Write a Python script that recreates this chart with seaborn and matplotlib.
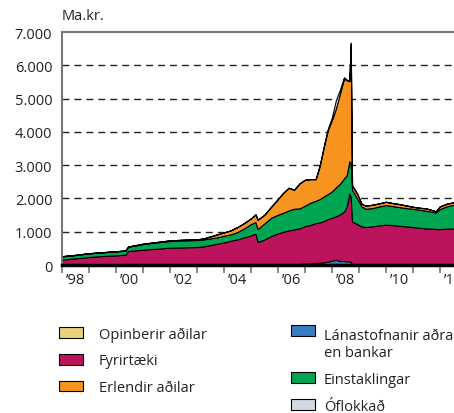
import numpy as np
import pandas as pd
import matplotlib
matplotlib.use('Agg')
import matplotlib.pyplot as plt
import matplotlib.ticker as mticker
from matplotlib.patches import Patch
import seaborn as sns

# Data (Ma.kr.)
dates = [1998.0, 1998.5, 1999.0, 1999.5, 2000.0, 2000.35, 2000.45, 2000.75,
         2001.0, 2001.5, 2002.0, 2002.5, 2003.0, 2003.25, 2003.5, 2003.75,
         2004.0, 2004.25, 2004.5, 2004.75, 2005.0, 2005.17, 2005.25, 2005.5,
         2005.75, 2006.0, 2006.2, 2006.4, 2006.6, 2006.8, 2007.0, 2007.2,
         2007.4, 2007.55, 2007.7, 2007.85, 2008.0, 2008.15, 2008.3, 2008.45,
         2008.55, 2008.65, 2008.7, 2008.75, 2008.85, 2008.95, 2009.1, 2009.25,
         2009.5, 2009.75, 2010.0, 2010.25, 2010.5, 2010.75, 2011.0, 2011.25,
         2011.5, 2011.75, 2011.85, 2012.0, 2012.25, 2012.6]

opinberir = [10] * 62

lanastofnanir = [0, 0, 0, 0, 0, 0, 0, 0,
                 0, 0, 0, 0, 0, 0, 0, 0,
                 0, 0, 0, 0, 0, 0, 0, 0,
                 0, 0, 0, 0, 10, 20, 30, 40,
                 50, 60, 70, 90, 120, 150, 110, 110,
                 100, 100, 90, 0, 0, 0, 0, 0,
                 0, 0, 0, 0, 0, 0, 0, 0,
                 0, 0, 0, 0, 0, 0]

fyrirtaeki = [150, 190, 230, 260, 280, 300, 410, 430,
              450, 480, 510, 520, 530, 550, 590, 630,
              670, 720, 760, 820, 880, 930, 680, 760,
              860, 940, 990, 1030, 1050, 1070, 1130, 1150,
              1200, 1210, 1240, 1280, 1290, 1300, 1400, 1480,
              1640, 2040, 1950, 1290, 1260, 1210, 1150, 1130,
              1150, 1180, 1200, 1190, 1170, 1150, 1130, 1110,
              1090, 1080, 1070, 1070, 1080, 1090]

einstaklingar = [100, 100, 110, 110, 120, 120, 130, 150,
                 170, 190, 200, 210, 210, 210, 200, 190,
                 200, 190, 220, 270, 340, 350, 390, 480,
                 550, 560, 570, 600, 620, 600, 610, 670,
                 670, 700, 740, 750, 790, 870, 920, 1000,
                 950, 970, 1000, 960, 850, 760, 600, 550,
                 550, 570, 590, 570, 560, 550, 550, 540,
                 530, 500, 500, 600, 670, 730]

erlendir = [5, 5, 5, 5, 5, 5, 5, 10,
            10, 10, 20, 20, 20, 30, 60, 90,
            100, 120, 150, 160, 170, 230, 280, 260,
            330, 470, 600, 680, 570, 750, 780, 710,
            650, 1000, 1490, 1920, 2140, 2370, 2710, 3000,
            2850, 2400, 3600, 120, 140, 140, 80, 90,
            100, 90, 100, 90, 90, 80, 60, 60,
            70, 50, 30, 80, 80, 70]

oflokkad = [0, 0, 0, 0, 0, 0, 0, 0,
            0, 0, 0, 0, 0, 0, 0, 0,
            0, 0, 0, 0, 0, 0, 0, 0,
            0, 0, 0, 0, 0, 0, 0, 0,
            0, 0, 0, 40, 80, 250, 120, 40,
            20, 20, 30, 0, 0, 0, 0, 0,
            0, 0, 0, 0, 0, 0, 0, 0,
            0, 0, 0, 0, 0, 0]

series_names = ['Opinberir aðilar', 'Lánastofnanir aðrar\nen bankar', 'Fyrirtæki',
                'Einstaklingar', 'Erlendir aðilar', 'Óflokkað']
series_colors = ['#E9D27C', '#3B7BC2', '#BC145C', '#00A551', '#F6941F', '#D2D9E2']

year_labels = ['’98', '’00', '’02', '’04', '’06', '’08', '’10', '’12']


def main():
    df = pd.DataFrame({
        'date': dates,
        series_names[0]: opinberir,
        series_names[1]: lanastofnanir,
        series_names[2]: fyrirtaeki,
        series_names[3]: einstaklingar,
        series_names[4]: erlendir,
        series_names[5]: oflokkad,
    })

    sns.set_theme(style='white')
    plt.rcParams['font.family'] = ['Open Sans', 'DejaVu Sans']

    fig = plt.figure(figsize=(4.54, 4.14), dpi=100)
    ax = fig.add_axes([62 / 454, 148 / 414, 398 / 454, 233 / 414])

    ax.stackplot(df['date'], *[df[c] for c in series_names],
                 colors=series_colors, edgecolor='black', linewidth=0.8)

    ax.set_xlim(1998, 2012.75)
    ax.set_ylim(0, 7000)

    # dashed horizontal grid
    for v in range(1000, 7000, 1000):
        ax.axhline(v, color='#222222', lw=1.0, ls=(0, (5, 3.6)), zorder=0)

    ax.yaxis.set_major_locator(mticker.MultipleLocator(1000))
    ax.yaxis.set_major_formatter(
        mticker.FuncFormatter(lambda v, p: f'{int(v):,}'.replace(',', '.')))
    ax.tick_params(axis='y', length=0, pad=7, labelsize=10.5, labelcolor='#222222')

    ax.set_xticks([y + 0.5 for y in range(1998, 2013, 2)])
    ax.set_xticklabels(year_labels)
    ax.set_xticks(range(1998, 2013), minor=True)
    ax.tick_params(axis='x', which='major', length=0, pad=5, labelsize=10.5,
                   labelcolor='#222222')
    ax.tick_params(axis='x', which='minor', length=6, width=1.2, color='#777777',
                   direction='out', bottom=True)

    for s in ['left', 'top']:
        ax.spines[s].set_color('#777777')
        ax.spines[s].set_linewidth(1.5)
    ax.spines['right'].set_visible(False)
    ax.spines['bottom'].set_color('black')
    ax.spines['bottom'].set_linewidth(2.5)
    ax.spines['bottom'].set_zorder(5)

    ax.text(0, 1.056, 'Ma.kr.', transform=ax.transAxes, ha='left', va='baseline',
            fontsize=10.5, color='#222222')

    # legend in two separate columns (like the original layout)
    cols = [([0, 2, 4], 52 / 454, 1.1, 0.8, 0.227),
            ([1, 3, 5], 284 / 454, 0.65, 0.82, 0.224)]
    for idx, x0, pad, spacing, y0 in cols:
        handles = [Patch(facecolor=series_colors[i], edgecolor='black', linewidth=0.8)
                   for i in idx]
        labels = [series_names[i] for i in idx]
        leg = fig.legend(handles, labels, loc='upper left', bbox_to_anchor=(x0, y0),
                         frameon=False, fontsize=10.5, handlelength=1.6, handleheight=0.75,
                         handletextpad=pad, labelspacing=spacing, borderpad=0,
                         labelcolor='#222222')
        if idx[0] == 1:
            # two-line label: keep the swatch level with the first line
            h = leg.legend_handles[0]
            h.set_y(h.get_y() + 10)

    fig.savefig('out.png', dpi=100)
    plt.close(fig)


if __name__ == '__main__':
    main()
